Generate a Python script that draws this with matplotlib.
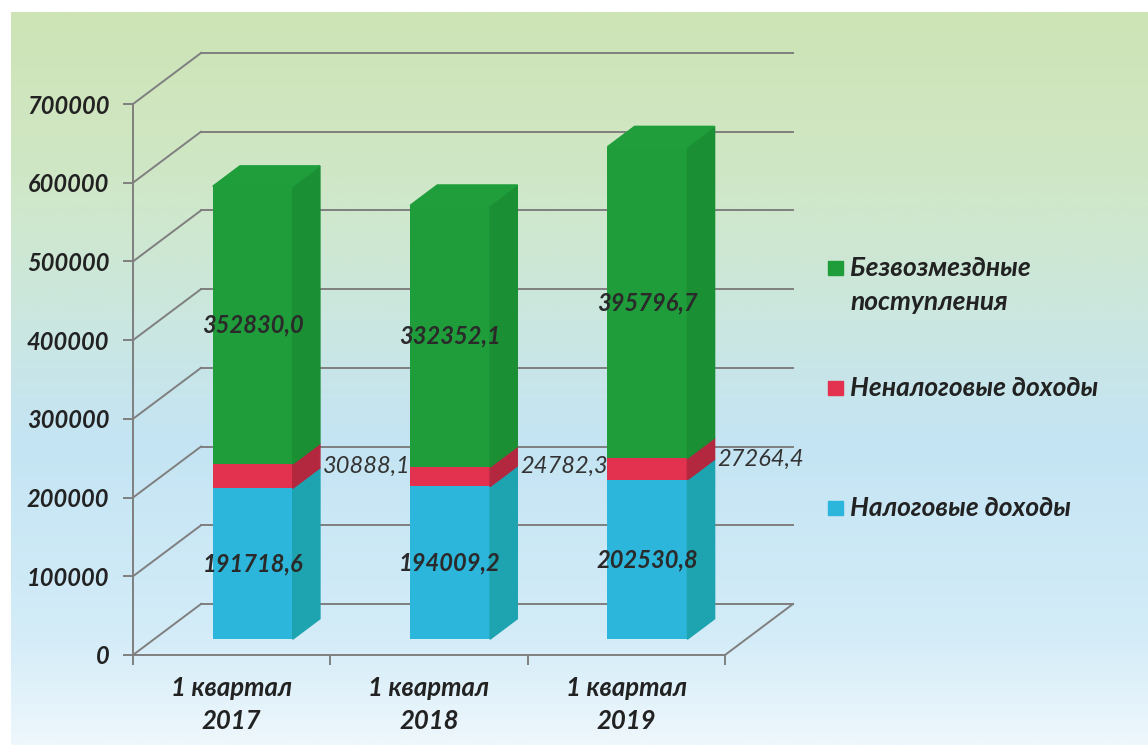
import numpy as np
import matplotlib.pyplot as plt
from matplotlib.patches import Polygon, Rectangle
from matplotlib.colors import LinearSegmentedColormap

plt.rcParams['font.family'] = ['Lato', 'DejaVu Sans']

# data
categories = ['1 квартал\n2017', '1 квартал\n2018', '1 квартал\n2019']
series_names = ['Налоговые доходы', 'Неналоговые доходы', 'Безвозмездные\nпоступления']
tax = [191718.6, 194009.2, 202530.8]
nontax = [30888.1, 24782.3, 27264.4]
grants = [352830.0, 332352.1, 395796.7]
yticks = [0, 100000, 200000, 300000, 400000, 500000, 600000, 700000]

front_colors = ['#2cb6db', '#e2324f', '#1f9d3a']
side_colors = ['#1ea3b0', '#b3283f', '#1a8f34']
top_color = '#1f9e3b'
grid_c = '#7f7f7f'
text_c = '#222222'

W, H = 1148, 754
fig = plt.figure(figsize=(W / 100, H / 100), dpi=100)

# background gradient
bg = fig.add_axes([11 / W, 9 / H, 1 - 11 / W, 1 - 21 / H], zorder=0)
cmap = LinearSegmentedColormap.from_list('bg', [
    (0.0, '#cde4b6'), (0.22, '#d0e7c6'), (0.42, '#cbe7e0'),
    (0.58, '#c4e4f3'), (0.85, '#d3ecf8'), (1.0, '#eef7fc')])
bg.imshow(np.linspace(0, 1, 300).reshape(-1, 1), cmap=cmap, aspect='auto',
          extent=[0, 1, 0, 1])
bg.axis('off')

ax = fig.add_axes([133 / W, (H - 655) / H, 592 / W, 551 / H], zorder=1)
ax.patch.set_alpha(0)
ax.set_xlim(0, 3)
ax.set_ylim(0, 700000)

# pixel -> data units
xu = 3 / 592
yu = 700000 / 551
DX, DY = 68 * xu, 51 * yu
d0, d1 = 0.31, 0.71
bw = 80 * xu

# walls and grid
for v in yticks:
    ax.plot([0, DX], [v, v + DY], color=grid_c, lw=1.4, clip_on=False, zorder=1)
    ax.plot([DX, 3 + DX], [v + DY, v + DY], color=grid_c, lw=1.4, clip_on=False, zorder=1)
ax.plot([3, 3 + DX], [0, DY], color=grid_c, lw=1.4, clip_on=False, zorder=1)

# bars
values = [tax, nontax, grants]
x = np.arange(len(categories)) + 0.5
base = np.zeros(len(categories))
o0, oD = d0 * DY, (d1 - d0)
for s, vals in enumerate(values):
    vals = np.array(vals)
    xc = x + d0 * DX
    ax.bar(xc, vals, width=bw, bottom=base + o0, color=front_colors[s],
           clip_on=False, zorder=3)
    for i in range(len(x)):
        xr = xc[i] + bw / 2
        xl = xc[i] - bw / 2
        b, t = base[i] + o0, base[i] + vals[i] + o0
        side = [(xr, b), (xr + oD * DX, b + oD * DY), (xr + oD * DX, t + oD * DY), (xr, t)]
        ax.add_patch(Polygon(side, closed=True, color=side_colors[s], clip_on=False, zorder=3))
        if s == len(values) - 1:
            top = [(xl, t), (xl + oD * DX, t + oD * DY), (xr + oD * DX, t + oD * DY), (xr, t)]
            ax.add_patch(Polygon(top, closed=True, color=top_color, clip_on=False, zorder=3))
        lab = f'{vals[i]:.1f}'.replace('.', ',')
        mid = base[i] + vals[i] / 2
        if s == 1:
            ax.text(xr + oD * DX + 3 * xu, mid + o0 + 0.2 * DY, lab, ha='left', va='center',
                    fontsize=17, style='italic', color='#333333', zorder=5, clip_on=False)
        else:
            ax.text(xc[i], mid + o0, lab, ha='center', va='center', fontsize=17,
                    style='italic', fontweight='bold', color='#2a2a2a', zorder=5)
    base = base + vals

# axes styling
for sp in ['top', 'right']:
    ax.spines[sp].set_visible(False)
for sp in ['left', 'bottom']:
    ax.spines[sp].set_color(grid_c)
    ax.spines[sp].set_linewidth(1.4)
ax.spines['bottom'].set_zorder(2)

ax.set_yticks(yticks)
ax.set_yticklabels([str(v) for v in yticks], fontsize=17, fontweight='bold',
                   style='italic', color=text_c)
ax.tick_params(axis='y', length=7, width=1.4, color=grid_c, pad=10)

ax.set_xticks([0, 1, 2, 3])
ax.set_xticklabels([])
ax.set_xticks(x, minor=True)
ax.set_xticklabels(categories, minor=True, fontsize=18.5, fontweight='bold',
                   style='italic', color=text_c, linespacing=1.45)
ax.tick_params(axis='x', which='major', length=7, width=1.4, color=grid_c)
ax.tick_params(axis='x', which='minor', length=0, pad=15)

# legend
leg_y = [508, 388, 268]
for s in range(len(series_names)):
    y0 = leg_y[s]
    fig.add_artist(Rectangle((828 / W, 1 - (y0 + 7) / H), 15 / W, 14 / H,
                             transform=fig.transFigure, color=front_colors[s]))
    for k, line in enumerate(series_names[s].split('\n')):
        fig.text(850 / W, 1 - (y0 + 34 * k) / H, line, ha='left', va='center',
                 fontsize=19, fontweight='bold', style='italic', color=text_c)

fig.savefig('out.png', dpi=100)
